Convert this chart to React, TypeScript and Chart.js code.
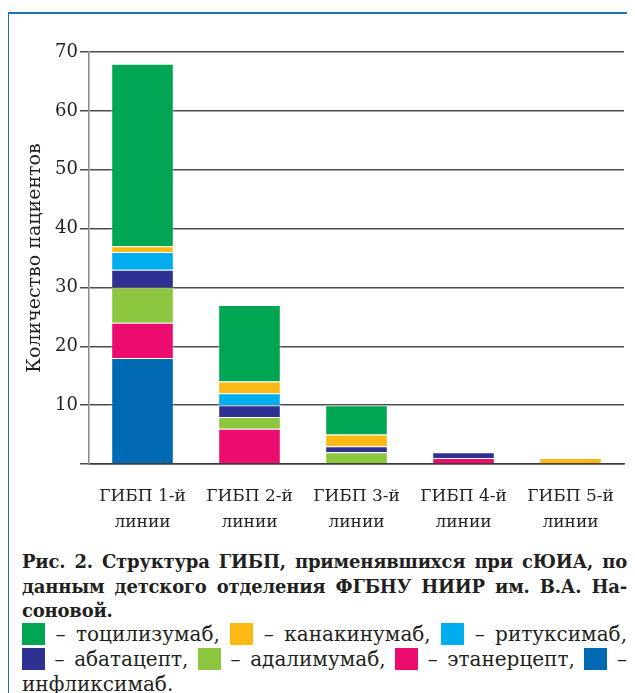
import React, { useEffect, useRef } from "react";
import { Chart, registerables } from "chart.js";

Chart.register(...registerables);

const categories: string[][] = [
  ["ГИБП 1-й", "линии"],
  ["ГИБП 2-й", "линии"],
  ["ГИБП 3-й", "линии"],
  ["ГИБП 4-й", "линии"],
  ["ГИБП 5-й", "линии"],
];

const infliximab = [18, 0, 0, 0, 0];
const etanercept = [6, 6, 0, 1, 0];
const adalimumab = [6, 2, 2, 0, 0];
const abatacept = [3, 2, 1, 1, 0];
const rituximab = [3, 2, 0, 0, 0];
const canakinumab = [1, 2, 2, 0, 1];
const tocilizumab = [31, 13, 5, 0, 0];

const seriesNames = [
  "инфликсимаб",
  "этанерцепт",
  "адалимумаб",
  "абатацепт",
  "ритуксимаб",
  "канакинумаб",
  "тоцилизумаб",
];
const seriesColors = [
  "#0069b4",
  "#ec0b6f",
  "#8dc63f",
  "#2e3192",
  "#00aeef",
  "#fdb913",
  "#00a651",
];

const yTicks = [0, 10, 20, 30, 40, 50, 60, 70];

const FONT = "'DejaVu Serif', serif";
const TEXT = "#231f20";

function ChartCanvas() {
  const ref = useRef<HTMLCanvasElement | null>(null);
  useEffect(() => {
    if (!ref.current) return;
    const values = [infliximab, etanercept, adalimumab, abatacept, rituximab, canakinumab, tocilizumab];
    const chart = new Chart(ref.current, {
      type: "bar",
      data: {
        labels: categories,
        datasets: values.map((v, i) => ({
          label: seriesNames[i],
          data: v,
          backgroundColor: seriesColors[i],
          borderColor: "rgba(255,255,255,0.35)",
          borderWidth: (c: any) => (c.raw ? 1 : 0),
          barPercentage: 0.585,
          categoryPercentage: 1,
        })),
      },
      options: {
        animation: false,
        responsive: false,
        maintainAspectRatio: false,
        layout: { padding: { top: 38, right: 11, left: 0, bottom: 0 } },
        plugins: { legend: { display: false }, tooltip: { enabled: false } },
        scales: {
          x: {
            stacked: true,
            grid: { display: false },
            border: { display: true, color: "#3a3a3a", width: 1.5 },
            ticks: {
              font: { family: FONT, size: 17, lineHeight: 1.5 },
              color: TEXT,
              padding: 12,
              maxRotation: 0,
            },
            afterFit: (s: any) => {
              s.height = 70;
            },
          },
          y: {
            stacked: true,
            min: yTicks[0],
            max: yTicks[yTicks.length - 1],
            afterBuildTicks: (s: any) => {
              s.ticks = yTicks.map((v) => ({ value: v }));
            },
            grid: { color: "#4d4d4d", lineWidth: 1.5, tickLength: 9 },
            border: { display: true, color: "#8a8a8a", width: 1.5 },
            ticks: {
              font: { family: FONT, size: 18 },
              color: TEXT,
              padding: 2,
              callback: (v: any) => (v === 0 ? "" : String(v)),
            },
            title: {
              display: true,
              text: "Количество пациентов",
              font: { family: FONT, size: 19 },
              color: TEXT,
              padding: { top: 15, bottom: 0 },
            },
            afterFit: (s: any) => {
              s.width = 80;
            },
          },
        },
      },
    });
    return () => chart.destroy();
  }, []);
  return <canvas ref={ref} width={626} height={520} style={{ display: "block" }} />;
}

function Sq({ c }: { c: string }) {
  return (
    <span
      style={{
        display: "inline-block",
        width: 23,
        height: 22,
        background: c,
        verticalAlign: "-4px",
      }}
    />
  );
}

const lineStyle: React.CSSProperties = {
  textAlign: "justify",
  textAlignLast: "justify" as any,
  whiteSpace: "nowrap",
};

export default function App() {
  return (
    <div style={{ width: 627, height: 685, overflow: "hidden" }}>
      <div
        style={{
          marginLeft: -1,
          marginTop: 4,
          width: 660,
          height: 720,
          border: "2px solid #1f6fb8",
          boxSizing: "border-box",
        }}
      >
        <ChartCanvas />
        <div
          style={{
            marginLeft: 13,
            marginTop: 16,
            width: 605,
            fontFamily: FONT,
            fontSize: 16,
            lineHeight: "24.5px",
            color: TEXT,
          }}
        >
          <div style={{ fontWeight: "bold", fontSize: 18, letterSpacing: "-0.2px" }}>
            <div style={lineStyle}>Рис. 2. Структура ГИБП, применявшихся при сЮИА, по</div>
            <div style={lineStyle}>данным детского отделения ФГБНУ НИИР им. В.А. На-</div>
            <div>соновой.</div>
          </div>
          <div style={{ fontSize: 20, lineHeight: "25px", marginTop: -2 }}>
            <div style={lineStyle}>
              <Sq c={seriesColors[6]} /> – тоцилизумаб, <Sq c={seriesColors[5]} /> – канакинумаб,{" "}
              <Sq c={seriesColors[4]} /> – ритуксимаб,
            </div>
            <div style={lineStyle}>
              <Sq c={seriesColors[3]} /> – абатацепт, <Sq c={seriesColors[2]} /> – адалимумаб,{" "}
              <Sq c={seriesColors[1]} /> – этанерцепт, <Sq c={seriesColors[0]} /> –
            </div>
            <div>инфликсимаб.</div>
          </div>
        </div>
      </div>
    </div>
  );
}
